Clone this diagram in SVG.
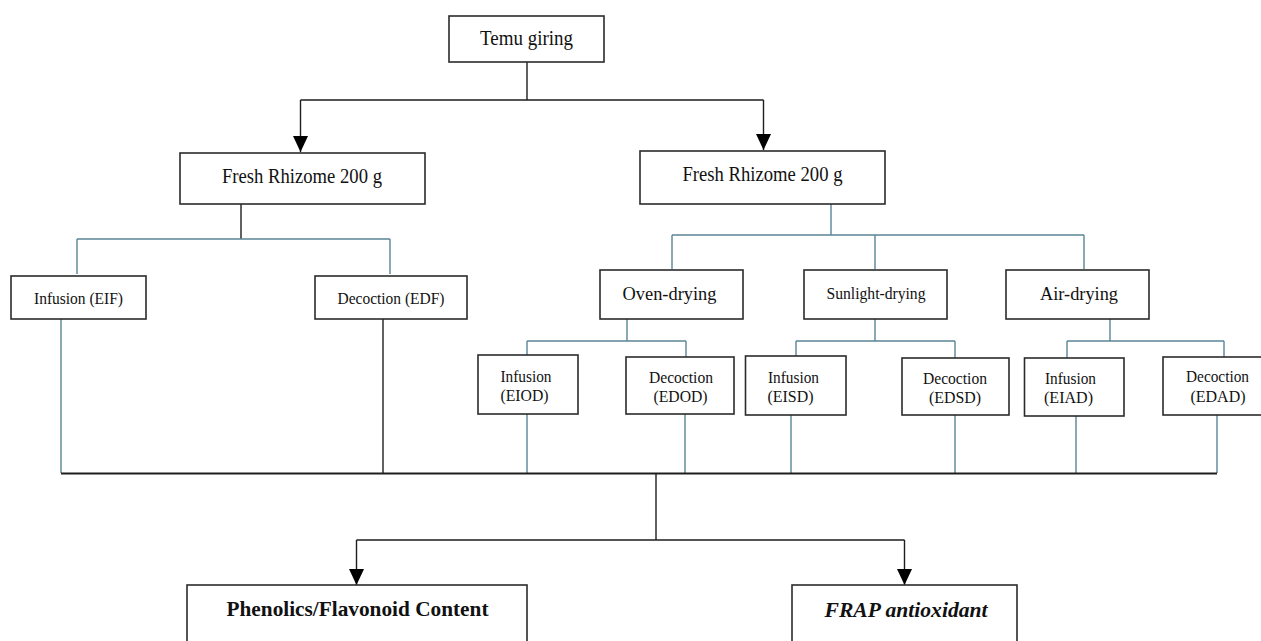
<svg xmlns="http://www.w3.org/2000/svg" width="1261" height="641" viewBox="0 0 1261 641">
<style>
.box{fill:#fff;stroke:#2b2b2b;stroke-width:1.6}
.t{font-family:"Liberation Serif","Times New Roman",serif;fill:#111;text-anchor:middle}
.f20{font-size:20px}
.f19{font-size:19px}
.f16{font-size:16px}
.b{font-weight:bold;font-size:21px}
.bi{font-weight:bold;font-style:italic;font-size:21px}
.k{fill:none;stroke:#1e1e1e;stroke-width:1.4}
.kb{fill:none;stroke:#1e1e1e;stroke-width:1.4}
.bl{fill:none;stroke:#5a8595;stroke-width:1.4}
</style>
<defs>
<marker id="ah" markerUnits="userSpaceOnUse" markerWidth="16" markerHeight="16" viewBox="0 0 16 16" refX="8" refY="16" orient="auto-start-reverse">
<path d="M0.5,0 L15.5,0 L8,16 Z" fill="#000"/>
</marker>
<marker id="ad" markerUnits="userSpaceOnUse" markerWidth="16" markerHeight="16" viewBox="0 0 16 16" refX="8" refY="16" orient="0">
<path d="M0.5,0 L15.5,0 L8,16 Z" fill="#000"/>
</marker>
</defs>
<rect width="1261" height="641" fill="#fff"/>
<g id="connectors">
<path class="k" d="M527,62 V100 M300.5,100 H763.5"/>
<path class="k" d="M300.5,100 V152" marker-end="url(#ad)"/>
<path class="k" d="M763.5,100 V150" marker-end="url(#ad)"/>
<path class="k" d="M241,204 V239"/>
<path class="bl" d="M77,239 H390 M77,239 V274 M390,239 V274"/>
<path class="bl" d="M831,204 V235 M672,235 H1084 M672,235 V269 M875,235 V269 M1084,235 V269"/>
<path class="bl" d="M627,319 V341 M527,341 H686 M527,341 V355 M686,341 V357"/>
<path class="bl" d="M875,319 V341 M796,341 H955 M796,341 V356 M955,341 V358"/>
<path class="bl" d="M1110,319 V341 M1067,341 H1224 M1067,341 V358 M1224,341 V357"/>
<path class="bl" d="M61,319 V473 M527,414 V473 M685,414 V473 M791,415 V473 M955,415 V473 M1076,416 V473 M1217,415 V473"/>
<path class="k" d="M383,319 V473"/>
<path class="k" d="M61,473.5 H1217" style="stroke-width:1.8"/>
<path class="k" d="M656,473 V540 M356.5,540 H904.5"/>
<path class="k" d="M356.5,540 V585" marker-end="url(#ad)"/>
<path class="k" d="M904.5,540 V585" marker-end="url(#ad)"/>
</g>
<g id="n-temu">
<rect class="box" x="449" y="16" width="155" height="46"/>
<text class="t f20" x="526.5" y="45" textLength="93" lengthAdjust="spacingAndGlyphs">Temu giring</text>
</g>
<g id="n-fresh-left">
<rect class="box" x="180" y="153" width="245" height="51"/>
<text class="t f20" x="302" y="183" textLength="160" lengthAdjust="spacingAndGlyphs">Fresh Rhizome 200 g</text>
</g>
<g id="n-fresh-right">
<rect class="box" x="640" y="151" width="245" height="53"/>
<text class="t f20" x="762.5" y="180.5" textLength="160" lengthAdjust="spacingAndGlyphs">Fresh Rhizome 200 g</text>
</g>
<g id="n-eif">
<rect class="box" x="11" y="276" width="135" height="43"/>
<text class="t f16" x="78.5" y="303.5" textLength="89" lengthAdjust="spacingAndGlyphs">Infusion (EIF)</text>
</g>
<g id="n-edf">
<rect class="box" x="315" y="276" width="152" height="43"/>
<text class="t f16" x="391" y="303.5" textLength="107" lengthAdjust="spacingAndGlyphs">Decoction (EDF)</text>
</g>
<g id="n-oven">
<rect class="box" x="600" y="270" width="143" height="49"/>
<text class="t f19" x="669.5" y="300" textLength="94" lengthAdjust="spacingAndGlyphs">Oven-drying</text>
</g>
<g id="n-sun">
<rect class="box" x="804" y="270" width="143" height="49"/>
<text class="t f16" x="876" y="298.5" textLength="99" lengthAdjust="spacingAndGlyphs">Sunlight-drying</text>
</g>
<g id="n-air">
<rect class="box" x="1006" y="270" width="143" height="49"/>
<text class="t f19" x="1079" y="300" textLength="78" lengthAdjust="spacingAndGlyphs">Air-drying</text>
</g>
<g id="n-eiod">
<rect class="box" x="478" y="355" width="100" height="59"/>
<text class="t f16" x="526" y="382" textLength="51" lengthAdjust="spacingAndGlyphs">Infusion</text>
<text class="t f16" x="524.5" y="401" textLength="48" lengthAdjust="spacingAndGlyphs">(EIOD)</text>
</g>
<g id="n-edod">
<rect class="box" x="626" y="357" width="108" height="57"/>
<text class="t f16" x="681" y="382.5" textLength="64" lengthAdjust="spacingAndGlyphs">Decoction</text>
<text class="t f16" x="680.5" y="401.5" textLength="54" lengthAdjust="spacingAndGlyphs">(EDOD)</text>
</g>
<g id="n-eisd">
<rect class="box" x="745.5" y="356" width="100.5" height="59"/>
<text class="t f16" x="793.5" y="383" textLength="51" lengthAdjust="spacingAndGlyphs">Infusion</text>
<text class="t f16" x="790.5" y="402" textLength="46" lengthAdjust="spacingAndGlyphs">(EISD)</text>
</g>
<g id="n-edsd">
<rect class="box" x="902" y="358" width="107" height="57"/>
<text class="t f16" x="955" y="383.5" textLength="64" lengthAdjust="spacingAndGlyphs">Decoction</text>
<text class="t f16" x="955" y="402.5" textLength="52" lengthAdjust="spacingAndGlyphs">(EDSD)</text>
</g>
<g id="n-eiad">
<rect class="box" x="1024.5" y="358" width="99.5" height="58"/>
<text class="t f16" x="1070.5" y="383.5" textLength="51" lengthAdjust="spacingAndGlyphs">Infusion</text>
<text class="t f16" x="1068.5" y="402.5" textLength="49" lengthAdjust="spacingAndGlyphs">(EIAD)</text>
</g>
<g id="n-edad">
<rect class="box" x="1163" y="357" width="108" height="58"/>
<text class="t f16" x="1217.5" y="382" textLength="63" lengthAdjust="spacingAndGlyphs">Decoction</text>
<text class="t f16" x="1218" y="401.5" textLength="55" lengthAdjust="spacingAndGlyphs">(EDAD)</text>
</g>
<g id="n-phenolics">
<rect class="box" x="187" y="585" width="340" height="80"/>
<text class="t b" x="357.5" y="616" textLength="262" lengthAdjust="spacingAndGlyphs">Phenolics/Flavonoid Content</text>
</g>
<g id="n-frap">
<rect class="box" x="792" y="585" width="225" height="80"/>
<text class="t bi" x="906" y="616.5" textLength="163" lengthAdjust="spacingAndGlyphs">FRAP antioxidant</text>
</g>
</svg>
